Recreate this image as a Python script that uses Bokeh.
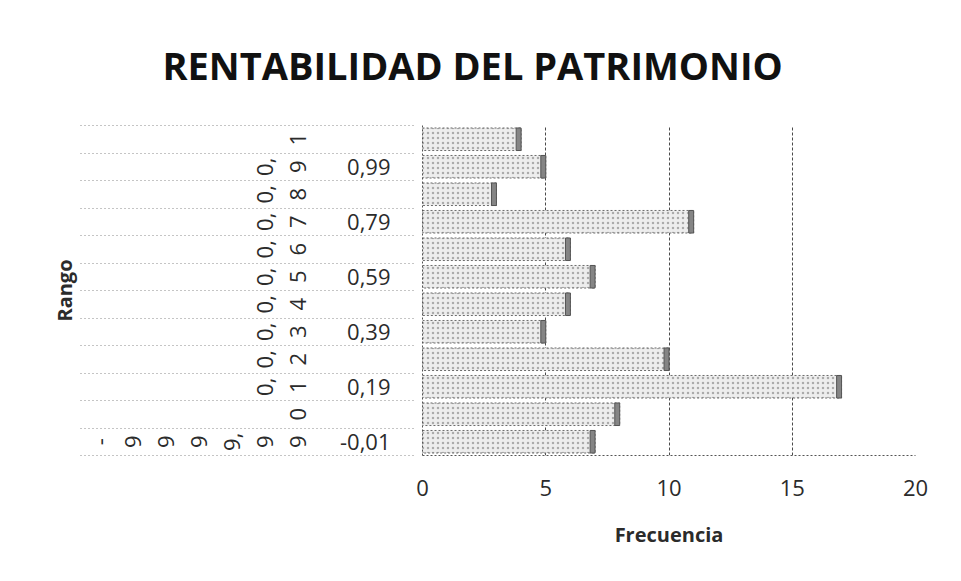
from bokeh.plotting import figure
from bokeh.models import (ColumnDataSource, FixedTicker, LinearAxis, Range1d, Title)
from bokeh.embed import file_html
from bokeh.resources import INLINE

# ---- data (bottom to top) ----
lower_labels = ["-9999,99", "0", "0,1", "0,2", "0,3", "0,4", "0,5", "0,6", "0,7", "0,8", "0,9", "1"]
upper_labels = ["-0,01", "0,09", "0,19", "0,29", "0,39", "0,49", "0,59", "0,69", "0,79", "0,89", "0,99", "1,09"]
frecuencia = [7, 8, 17, 10, 5, 6, 7, 6, 11, 3, 5, 4]
x_ticks = [0, 5, 10, 15, 20]


def wrap_label(s):
    # Excel wraps the narrow rotated labels: one character per line, comma kept with its digit
    parts = []
    for ch in s:
        if ch == "," and parts:
            parts[-1] += ch
        else:
            parts.append(ch)
    return "\n".join(parts)


pos = list(range(1, len(frecuencia) + 1))
dividers = [0.5] + [v + 0.5 for v in pos]
src = ColumnDataSource(data=dict(
    y=pos,
    f=frecuencia,
    fcap=[v - 0.2 for v in frecuencia],
))

FONT = "Open Sans"
TXT = "#2b2b2b"

p = figure(width=945, height=565, output_backend="svg", toolbar_location=None,
           x_range=Range1d(0, 20), y_range=Range1d(0.5, len(pos) + 0.5),
           min_border_left=422, min_border_right=30, min_border_top=125, min_border_bottom=110)
p.outline_line_color = None

# title
t = Title(text="RENTABILIDAD DEL PATRIMONIO", align="left", offset=-260,
          text_font=FONT, text_font_size="38px", text_font_style="bold",
          text_color="#111111", standoff=70)
p.add_layout(t, "above")

# bars
p.hbar(y="y", left=0, right="f", height=0.82, source=src,
       fill_color="#ededed", line_color="#6b6b6b", line_dash="2 2", line_width=1,
       hatch_pattern="dot", hatch_color="#9a9a9a", hatch_scale=5, hatch_alpha=0.8)
p.hbar(y="y", left="fcap", right="f", height=0.82, source=src,
       fill_color="#858585", line_color="#555555", line_width=1)

# x axis
xa = p.xaxis[0]
xa.ticker = FixedTicker(ticks=x_ticks)
xa.axis_label = "Frecuencia"
xa.axis_label_text_font = FONT
xa.axis_label_text_font_size = "20px"
xa.axis_label_text_font_style = "bold"
xa.axis_label_text_color = TXT
xa.axis_label_standoff = 22
xa.major_label_text_font = FONT
xa.major_label_text_font_size = "22px"
xa.major_label_text_color = TXT
xa.major_label_standoff = 18
xa.major_tick_line_color = None
xa.minor_tick_line_color = None
xa.axis_line_color = "#555555"
xa.axis_line_dash = "2 2"

# inner level of category labels (every other one shown, as in Excel)
ya = p.yaxis[0]
ya.ticker = FixedTicker(ticks=pos[::2])
ya.major_label_overrides = {y: lab for y, lab in zip(pos, upper_labels)}
ya.major_label_text_font = FONT
ya.major_label_text_font_size = "22px"
ya.major_label_text_color = TXT
ya.major_label_standoff = 26
ya.major_tick_line_color = None
ya.minor_tick_line_color = None
ya.axis_line_color = "#555555"
ya.axis_line_dash = "2 2"

# outer level of category labels: rotated and wrapped
ya2 = LinearAxis(ticker=FixedTicker(ticks=pos),
                 major_label_overrides={y: wrap_label(lab) for y, lab in zip(pos, lower_labels)},
                 major_label_orientation="vertical",
                 major_label_text_font=FONT, major_label_text_font_size="22px",
                 major_label_text_color=TXT, major_label_text_line_height=1.1,
                 major_label_standoff=19,
                 major_tick_line_color=None, minor_tick_line_color=None,
                 axis_line_color=None)
p.add_layout(ya2, "left")

# divider lines of the two-level category axis + the axis title
ya3 = LinearAxis(ticker=FixedTicker(ticks=dividers),
                 major_label_overrides={v: "" for v in dividers},
                 major_label_text_font_size="1px", major_label_standoff=0,
                 major_tick_in=336, major_tick_out=0,
                 major_tick_line_color="#8a8a8a", major_tick_line_dash="1 3",
                 minor_tick_line_color=None, axis_line_color=None,
                 axis_label="Rango", axis_label_text_font=FONT, axis_label_text_font_size="20px",
                 axis_label_text_font_style="bold", axis_label_text_color=TXT,
                 axis_label_standoff=3)
p.add_layout(ya3, "left")

# grid
p.ygrid.grid_line_color = None
p.xgrid.ticker = FixedTicker(ticks=x_ticks)
p.xgrid.grid_line_color = "#4a4a4a"
p.xgrid.grid_line_dash = "3 2"
p.xgrid.grid_line_width = 1

open("out.html", "w").write(file_html(p, INLINE))
